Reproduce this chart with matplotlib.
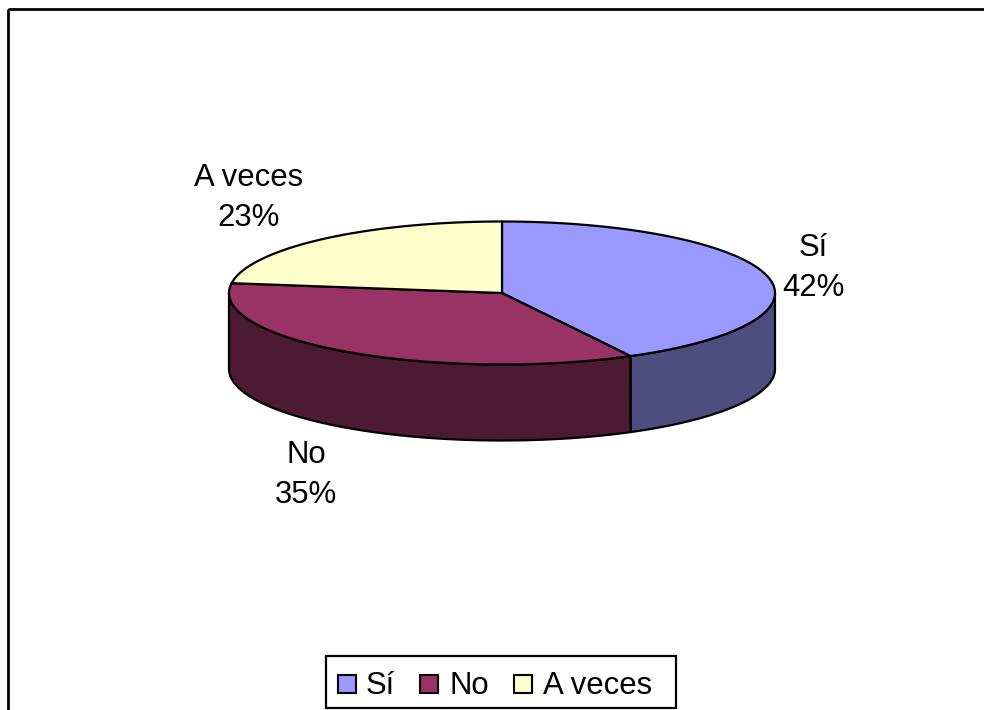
import numpy as np
import matplotlib
matplotlib.use("Agg")
import matplotlib.pyplot as plt
from matplotlib.patches import Polygon, Rectangle

categories = ["Sí", "No", "A veces"]
values = [42.2, 35, 22.8]
top_colors = ["#9999FF", "#993366", "#FFFFCC"]
side_colors = ["#4D4D80", "#4D1A33", "#808066"]

W, H = 984, 710
CX, CY, RX, RY, DEPTH = 502, 293, 273, 71.5, 76
FS = 22.4
plt.rcParams["font.family"] = ["Liberation Sans", "DejaVu Sans"]

fig = plt.figure(figsize=(W / 100, H / 100), dpi=100)
ax = fig.add_axes([0, 0, 1, 1])
ax.set_xlim(0, W)
ax.set_ylim(H, 0)
ax.axis("off")

# chart frame (runs off the right and bottom of the picture)
ax.add_patch(Rectangle((8, 9), W + 50, H + 50, fill=False, ec="black", lw=2, clip_on=True))


def rim(a0, a1):
    t = np.radians(np.linspace(a0, a1, max(int(abs(a1 - a0)), 1) * 2 + 1))
    return CX + RX * np.sin(t), CY - RY * np.cos(t)


fracs = np.array(values) / sum(values)
edges = np.concatenate([[0], np.cumsum(fracs) * 360])

# sides: only the front half of the rim (90..270 deg clockwise from top) is visible
for i in range(len(values)):
    a0, a1 = max(edges[i], 90), min(edges[i + 1], 270)
    if a1 <= a0:
        continue
    x, y = rim(a0, a1)
    pts = np.column_stack([np.r_[x, x[::-1]], np.r_[y, y[::-1] + DEPTH]])
    ax.add_patch(Polygon(pts, closed=True, fc=side_colors[i], ec="black", lw=1.6, joinstyle="round", zorder=2))

# top faces
for i in range(len(values)):
    x, y = rim(edges[i], edges[i + 1])
    pts = np.column_stack([np.r_[CX, x], np.r_[CY, y]])
    ax.add_patch(Polygon(pts, closed=True, fc=top_colors[i], ec="black", lw=1.6, joinstyle="round", zorder=3))

# data labels
label_pos = [(813, 268), (306, 475), (249, 198)]
for c, v, (lx, ly) in zip(categories, values, label_pos):
    ax.text(lx, ly, f"{c}\n{v:.0f}%", ha="center", va="center", fontsize=FS, color="black",
            linespacing=1.4, zorder=5)

# legend
ax.add_patch(Rectangle((326, 656), 350, 52, fc="white", ec="black", lw=1.6, zorder=4))
swatch_x = [338, 420, 514]
text_x = [366, 449, 543]
for c, col, sx, tx in zip(categories, top_colors, swatch_x, text_x):
    ax.add_patch(Rectangle((sx, 674.5), 18, 18, fc=col, ec="black", lw=1.5, zorder=5))
    ax.text(tx, 694, c, ha="left", va="baseline", fontsize=FS, color="black", zorder=5)

fig.savefig("out.png", dpi=100, facecolor="white")
